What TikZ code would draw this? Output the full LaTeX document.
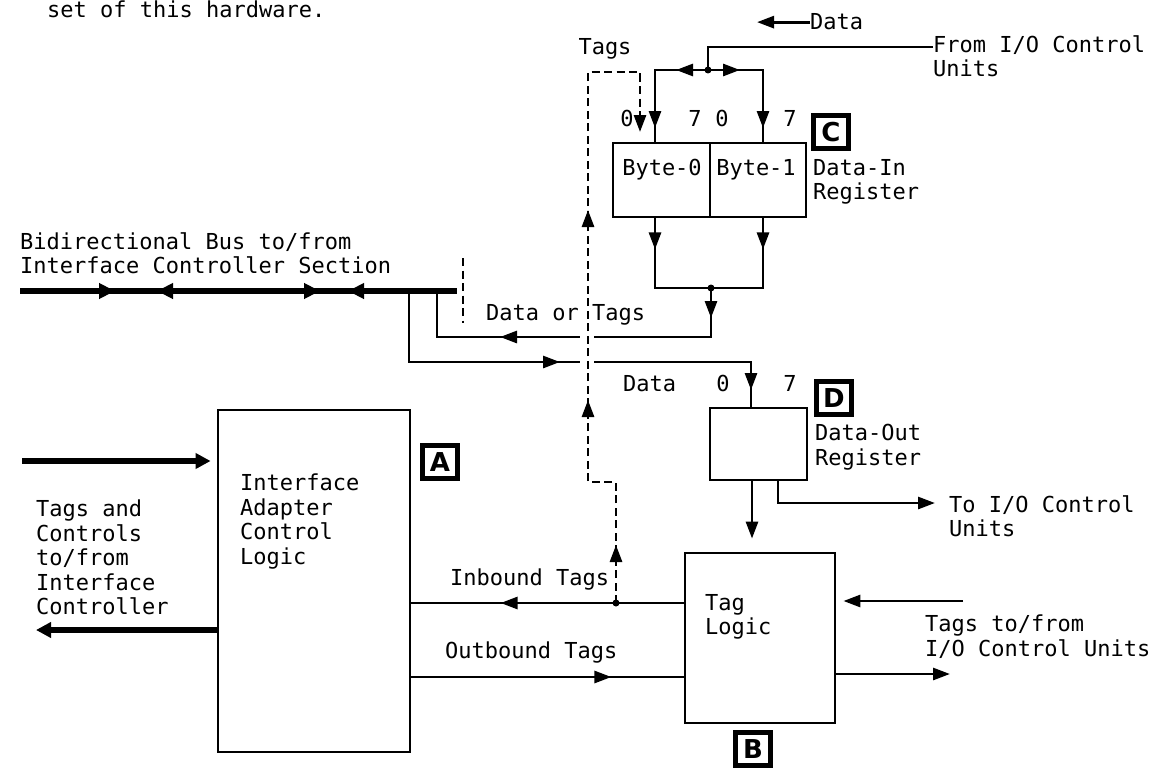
\documentclass[tikz,border=0pt]{standalone}
\usepackage{fontspec}
\setmonofont{DejaVu Sans Mono}
\newfontfamily\letterfont{DejaVu Sans}
\usepackage{tikz}
\usetikzlibrary{arrows.meta, positioning, calc, decorations.markings}

\begin{document}
\begin{tikzpicture}[
  x=1pt, y=-1pt,
  txt/.style={font=\ttfamily\fontsize{22}{24.5}\selectfont, inner sep=0pt, align=left},
  block/.style={draw, line width=2.8pt, inner sep=0pt},
  letter/.style={draw, line width=4.2pt, font=\letterfont\bfseries\fontsize{26}{26}\selectfont, minimum width=35pt, minimum height=33pt, inner sep=0pt},
  wire/.style={line width=2.8pt},
  arr/.style={-{Triangle[length=17pt, width=12pt]}},
  bus/.style={line width=6.5pt},
  busarr/.style={line width=6.5pt, -{Triangle[length=15pt, width=15pt]}},
  tagline/.style={line width=2.8pt, dash pattern=on 8pt off 4.5pt},
  fwd/.style={postaction={decorate, decoration={markings, mark=at position #1 with {\arrow{Triangle[length=17pt, width=12pt]}}}}},
  busfwd/.style={postaction={decorate, decoration={markings, mark=at position #1 with {\arrow{Triangle[length=16pt, width=15pt]}}}}},
  busrev/.style={postaction={decorate, decoration={markings, mark=at position #1 with {\arrowreversed{Triangle[length=16pt, width=15pt]}}}}}
]
  \useasboundingbox (0,0) rectangle (1159,768);

  % blocks
  \node[block, minimum width=192pt, minimum height=342pt] (adapter) at (314,581) {};
  \node[block, minimum width=150pt, minimum height=170pt] (taglogic) at (760,638) {};
  \node[block, minimum width=97pt, minimum height=74pt] (byte0) at (661.5,180) {};
  \node[block, minimum width=96pt, minimum height=74pt] (byte1) at (758,180) {};
  \node[block, minimum width=97pt, minimum height=72pt] (dataout) at (758.5,444) {};

  % letters
  \node[letter] (lA) at (440,462) {A};
  \node[letter] (lB) at (753,749) {B};
  \node[letter] (lC) at (831,132) {C};
  \node[letter] (lD) at (834,398) {D};

  % texts
  \node[txt, anchor=base west] (hdr) at (47,18) {set of this hardware.};
  \node[txt, anchor=base west] (datatop) at (810,30) {Data};
  \node[txt, anchor=base] (tagstop) at (605,55) {Tags};
  \node[txt, anchor=north west] (fromio) at (933,35) {From I/O Control\\Units};
  \node[txt, anchor=north west] (busname) at (20,232) {Bidirectional Bus to/from\\Interface Controller Section};
  \node[txt, anchor=base] (bit00) at (627,126) {0};
  \node[txt, anchor=base] (bit07) at (695,126) {7};
  \node[txt, anchor=base] (bit10) at (722,126) {0};
  \node[txt, anchor=base] (bit17) at (790,126) {7};
  \node[txt, anchor=base] (b0name) at (662,175) {Byte-0};
  \node[txt, anchor=base] (b1name) at (756,175) {Byte-1};
  \node[txt, anchor=north west] (dinname) at (813,159) {Data-In\\Register};
  \node[txt, anchor=base west] (dortags) at (486,320) {Data or Tags};
  \node[txt, anchor=base west] (dataname) at (623,391) {Data};
  \node[txt, anchor=base] (bitout0) at (723,391) {0};
  \node[txt, anchor=base] (bitout7) at (790,391) {7};
  \node[txt, anchor=north west] (doutname) at (815,424) {Data-Out\\Register};
  \node[txt, anchor=north west] (toio) at (949,495) {To I/O Control\\Units};
  \node[txt, anchor=north west] (ianame) at (240,474) {Interface\\Adapter\\Control\\Logic};
  \node[txt, anchor=north west] (ctlname) at (36,500) {Tags and\\Controls\\to/from\\Interface\\Controller};
  \node[txt, anchor=base west] (inbname) at (450,585) {Inbound Tags};
  \node[txt, anchor=base west] (outbname) at (445,658) {Outbound Tags};
  \node[txt, anchor=north west] (tlname) at (705,594) {Tag\\Logic};
  \node[txt, anchor=north west] (tagsio) at (925,615) {Tags to/from\\I/O Control Units};

  % points
  \coordinate (jin) at (708,70);
  \coordinate (jout) at (711,288);
  \coordinate (jtag) at (616,603);
  \coordinate (busW) at (20,291);
  \coordinate (busE) at (457,291);
  \coordinate (tapin) at (437,291);
  \coordinate (tapout) at (409,291);
  \coordinate (toiotip) at (935,503);
  \coordinate (tagsin) at (963,601);
  \coordinate (tagsout) at (950,674);
  \coordinate (ctlin) at (22,461);
  \coordinate (ctlout) at (36,630);

  % bus
  \draw[bus, busfwd=95pt, busrev=137pt, busfwd=300pt, busrev=328pt] (busW) -- (busE);
  \draw[tagline] (463,258) -- (463,323);

  % data in
  \draw[wire, arr] (datatop.west) -- ++(-53,0);
  \draw[wire] ([yshift=-12pt]fromio.north west) -| (jin);
  \draw[wire, fwd=32pt, fwd=111pt] (jin) -| ([xshift=-6.5pt]byte0.north);
  \draw[wire, fwd=32pt, fwd=113pt] (jin) -| ([xshift=5pt]byte1.north);
  \fill (jin) circle (3.5pt);
  \draw[wire, fwd=31pt] ([xshift=-6.5pt]byte0.south) |- (jout);
  \draw[wire, fwd=31pt] ([xshift=5pt]byte1.south) |- (jout);
  \fill (jout) circle (3.5pt);
  \draw[wire, fwd=30pt, fwd=260pt] (jout) |- (tapin |- 0,337) -- (tapin);

  % data out
  \draw[wire, fwd=222pt, fwd=441pt] (tapout) |- (751,362) -- ([xshift=-7.5pt]dataout.north);
  \draw[wire, arr, shorten >=13pt] ([xshift=-6.5pt]dataout.south) -- ([xshift=-8pt]taglogic.north);
  \draw[wire, arr] ([xshift=19.5pt]dataout.south) |- (toiotip);

  % gaps where the tag line crosses
  \fill[white] (580,328) rectangle (594,371);

  % tags to byte-0
  \draw[tagline, fwd=58pt, fwd=231pt, fwd=421pt, arr, shorten >=11pt] (jtag) |- (588,482) |- (640,72) -- (640,143);

  % tag logic
  \draw[wire, fwd=183pt] (taglogic.west |- jtag) -- (adapter.east |- jtag);
  \fill (jtag) circle (3.5pt);
  \draw[wire, fwd=200pt] (adapter.east |- 0,677) -- (taglogic.west |- 0,677);
  \draw[wire, arr, shorten >=7pt] (tagsin) -- (taglogic.east |- tagsin);
  \draw[wire, arr] (taglogic.east |- tagsout) -- (tagsout);

  % controller side
  \draw[busarr, shorten >=6pt] (ctlin) -- (adapter.west |- ctlin);
  \draw[busarr] (adapter.west |- ctlout) -- (ctlout);
\end{tikzpicture}
\end{document}
